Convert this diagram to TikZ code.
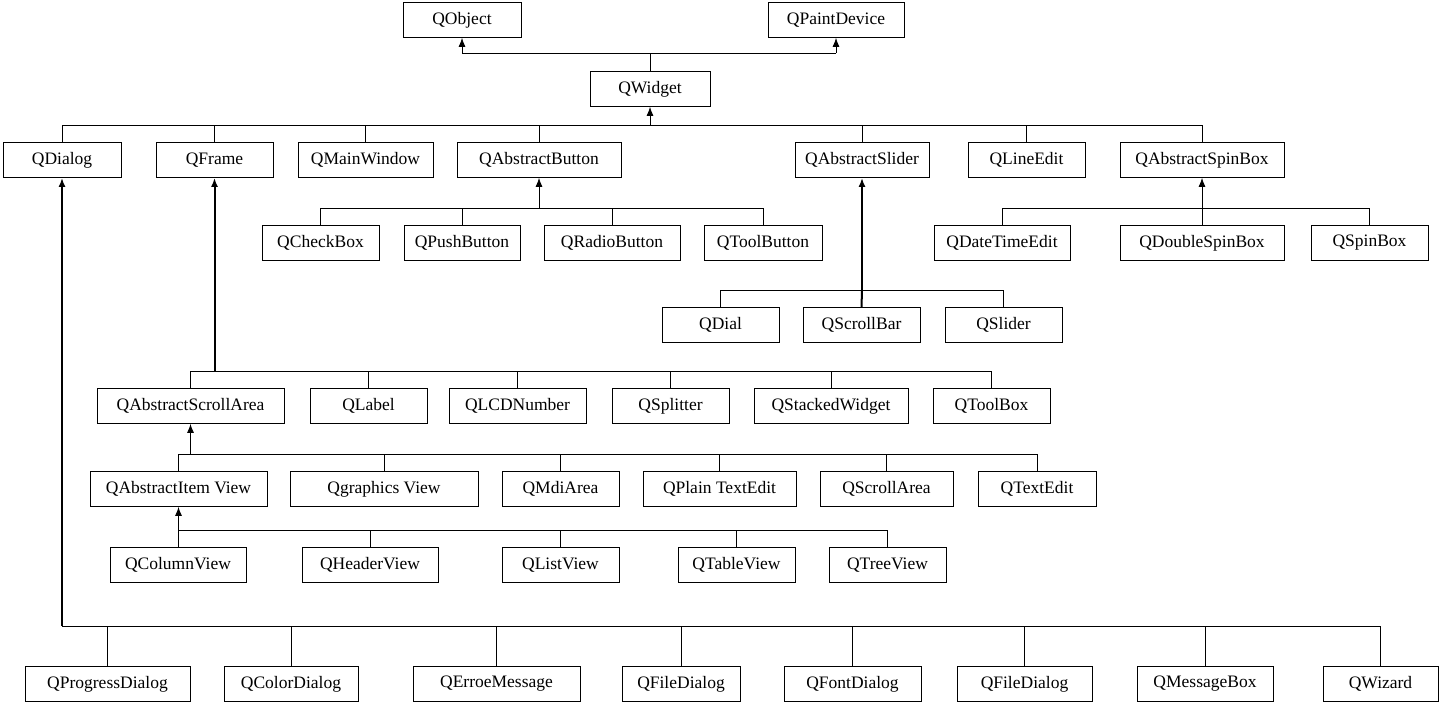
\documentclass[tikz,border=0pt]{standalone}
\usepackage{fontspec}
\setmainfont{Liberation Serif}
\usetikzlibrary{arrows.meta}
\tikzset{
  box/.style={draw, line width=0.8pt, minimum height=35pt, inner sep=0pt, font=\fontsize{17.5}{20}\selectfont},
  link/.style={line width=0.8pt},
  up/.style={line width=0.8pt, -{Latex[length=9pt,width=7pt]}},
  bold/.style={line width=2pt}
}
\begin{document}
\begin{tikzpicture}[x=1pt,y=-1pt]
\useasboundingbox (0,0) rectangle (1450,705);
% top level
\node[box, minimum width=118pt] (obj) at (462,20) {QObject};
\node[box, minimum width=136pt] (pd) at (836,20) {QPaintDevice};
\node[box, minimum width=120pt] (wid) at (650,89) {QWidget};
\coordinate (wtop) at (650,53);
\draw[link] (wid.north) -- (wtop);
\draw[link] (obj.south |- wtop) -- (pd.south |- wtop);
\draw[up] (obj.south |- wtop) -- (obj.south);
\draw[up] (pd.south |- wtop) -- (pd.south);

% children of QWidget
\node[box, minimum width=118pt] (dlg) at (62,160) {QDialog};
\node[box, minimum width=117pt] (frm) at (214.5,160) {QFrame};
\node[box, minimum width=135pt] (mw) at (365.5,160) {QMainWindow};
\node[box, minimum width=164pt] (ab) at (539,160) {QAbstractButton};
\node[box, minimum width=134pt] (as) at (862,160) {QAbstractSlider};
\node[box, minimum width=117pt] (le) at (1026.5,160) {QLineEdit};
\node[box, minimum width=164pt] (asb) at (1202,160) {QAbstractSpinBox};
\coordinate (wbus) at (0,125);
\draw[link] (dlg.north |- wbus) -- (asb.north |- wbus);
\foreach \n in {dlg,frm,mw,ab,as,le,asb} \draw[link] (\n.north) -- (\n.north |- wbus);
\draw[up] (wid.south |- wbus) -- (wid.south);

% QAbstractButton
\node[box, minimum width=117pt] (cb) at (320.5,243) {QCheckBox};
\node[box, minimum width=116pt] (pb) at (462,243) {QPushButton};
\node[box, minimum width=136pt] (rb) at (612,243) {QRadioButton};
\node[box, minimum width=118pt] (tb) at (763,243) {QToolButton};
\coordinate (abus) at (0,208);
\draw[link] (cb.north |- abus) -- (tb.north |- abus);
\foreach \n in {cb,pb,rb,tb} \draw[link] (\n.north) -- (\n.north |- abus);
\draw[up] (ab.south |- abus) -- (ab.south);

% QAbstractSpinBox
\node[box, minimum width=136pt] (dte) at (1002,243) {QDateTimeEdit};
\node[box, minimum width=164pt] (dsb) at (1202,243) {QDoubleSpinBox};
\node[box, minimum width=117pt] (sb) at (1369.5,243) {QSpinBox};
\coordinate (sbus) at (0,208);
\draw[link] (dte.north |- sbus) -- (sb.north |- sbus);
\foreach \n in {dte,dsb,sb} \draw[link] (\n.north) -- (\n.north |- sbus);
\draw[up] (asb.south |- sbus) -- (asb.south);

% QAbstractSlider
\node[box, minimum width=117pt] (dial) at (720.5,325) {QDial};
\node[box, minimum width=117pt] (scb) at (861.5,325) {QScrollBar};
\node[box, minimum width=117pt] (sld) at (1003.5,325) {QSlider};
\coordinate (slbus) at (0,290);
\draw[link] (dial.north |- slbus) -- (sld.north |- slbus);
\foreach \n in {dial,scb,sld} \draw[link] (\n.north) -- (\n.north |- slbus);
\draw[bold] (scb.north) -- (as.south |- slbus);
\draw[up, bold] (as.south |- slbus) -- (as.south);

% QFrame
\node[box, minimum width=187pt] (asa) at (190.5,406) {QAbstractScrollArea};
\node[box, minimum width=117pt] (lbl) at (368.5,406) {QLabel};
\node[box, minimum width=137pt] (lcd) at (517.5,406) {QLCDNumber};
\node[box, minimum width=117pt] (spl) at (670.5,406) {QSplitter};
\node[box, minimum width=154pt] (stw) at (831,406) {QStackedWidget};
\node[box, minimum width=117pt] (tbx) at (991.5,406) {QToolBox};
\coordinate (fbus) at (0,371);
\draw[link] (asa.north |- fbus) -- (tbx.north |- fbus);
\foreach \n in {asa,lbl,lcd,spl,stw,tbx} \draw[link] (\n.north) -- (\n.north |- fbus);
\draw[up, bold] (frm.south |- fbus) -- (frm.south);

% QAbstractScrollArea
\node[box, minimum width=177pt] (aiv) at (178.5,489) {QAbstractItem View};
\node[box, minimum width=188pt] (gv) at (384,489) {Qgraphics View};
\node[box, minimum width=117pt] (mdi) at (560.5,489) {QMdiArea};
\node[box, minimum width=153pt] (pte) at (719.5,489) {QPlain TextEdit};
\node[box, minimum width=133pt] (sca) at (886.5,489) {QScrollArea};
\node[box, minimum width=118pt] (te) at (1037,489) {QTextEdit};
\coordinate (sabus) at (0,454);
\draw[link] (aiv.north |- sabus) -- (te.north |- sabus);
\foreach \n in {aiv,gv,mdi,pte,sca,te} \draw[link] (\n.north) -- (\n.north |- sabus);
\draw[up] (asa.south |- sabus) -- (asa.south);

% QAbstractItemView
\node[box, minimum width=136pt] (cv) at (178,565) {QColumnView};
\node[box, minimum width=136pt] (hv) at (370,565) {QHeaderView};
\node[box, minimum width=117pt] (lv) at (560.5,565) {QListView};
\node[box, minimum width=117pt] (tv) at (736.5,565) {QTableView};
\node[box, minimum width=117pt] (trv) at (887.5,565) {QTreeView};
\coordinate (ivbus) at (0,530);
\draw[link] (cv.north |- ivbus) -- (trv.north |- ivbus);
\foreach \n in {cv,hv,lv,tv,trv} \draw[link] (\n.north) -- (\n.north |- ivbus);
\draw[up] (aiv.south |- ivbus) -- (aiv.south);

% QDialog
\node[box, minimum width=165pt] (prd) at (107.5,684) {QProgressDialog};
\node[box, minimum width=134pt] (cd) at (291,684) {QColorDialog};
\node[box, minimum width=167pt] (em) at (496.5,684) {QErroeMessage};
\node[box, minimum width=118pt] (fd) at (681,684) {QFileDialog};
\node[box, minimum width=137pt] (fnd) at (852.5,684) {QFontDialog};
\node[box, minimum width=135pt] (fd2) at (1024.5,684) {QFileDialog};
\node[box, minimum width=136pt] (mb) at (1205,684) {QMessageBox};
\node[box, minimum width=115pt] (wz) at (1380.5,684) {QWizard};
\coordinate (dbus) at (0,626);
\draw[link] (dlg.south |- dbus) -- (wz.north |- dbus);
\foreach \n in {prd,cd,em,fd,fnd,fd2,mb,wz} \draw[link] (\n.north) -- (\n.north |- dbus);
\draw[up, bold] (dlg.south |- dbus) -- (dlg.south);
\end{tikzpicture}
\end{document}
